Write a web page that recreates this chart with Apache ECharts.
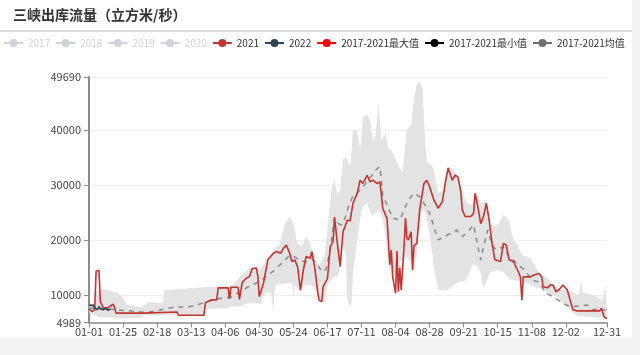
<!DOCTYPE html>
<html><head><meta charset="utf-8">
<script src="https://cdn.jsdelivr.net/npm/echarts@6/dist/echarts.min.js"></script>
<style>
html,body{margin:0;padding:0;background:#f3f3f3;width:640px;height:355px;overflow:hidden}
#c{width:632px;height:338px;background:#fff}
</style></head>
<body><div id="c"></div>
<script>
// ---- categories (leap-year day list, MM-DD) ----
const monthDays = [31,29,31,30,31,30,31,31,30,31,30,31];
const categories = [];
monthDays.forEach((n, m) => { for (let d = 1; d <= n; d++) categories.push(String(m+1).padStart(2,'0') + '-' + String(d).padStart(2,'0')); });
const labelStep = 24;

// ---- y axis range ----
const yMin = 4989;
const yMax = 49690;

// ---- hidden years (legend only) ----
const hiddenYears = ['2017','2018','2019','2020'];

// ---- 2021 [dayIndex, value] ----
const series2021 = [[0,7400],[2,7000],[4,7300],[5,14300],[7,14500],[8,8800],[10,7700],[13,7600],[15,8000],[17,8300],[18,7800],[19,6700],[38,6700],[39,6900],[62,6900],[63,6300],[81,6300],[82,8600],[86,9100],[90,9100],[91,11300],[98,11300],[99,9300],[100,11400],[105,11400],[106,9200],[107,9300],[108,12300],[111,13100],[113,13300],[115,14800],[118,14900],[119,13400],[120,9700],[121,9500],[123,12200],[126,16400],[130,17600],[132,17900],[135,17600],[137,18500],[139,19100],[141,17900],[143,16100],[145,16400],[147,15100],[149,10900],[151,14500],[153,17000],[156,16700],[157,17900],[159,15100],[161,10900],[162,9100],[164,8800],[165,11500],[168,13000],[170,18800],[172,19700],[173,24200],[175,19400],[177,15200],[179,21500],[182,23600],[184,23500],[186,26700],[189,28500],[191,30900],[193,30300],[196,31800],[198,30600],[200,30900],[203,30300],[205,30600],[207,25800],[210,23900],[212,15500],[213,18200],[214,13300],[216,10300],[217,18000],[218,10600],[219,15000],[220,10900],[222,18800],[223,24000],[224,20400],[225,20000],[227,21500],[228,14500],[229,19000],[231,19400],[233,25500],[236,30300],[238,30900],[240,29700],[243,27300],[246,25800],[249,27000],[251,30300],[253,33100],[256,30900],[258,31800],[260,31500],[262,28800],[263,25500],[265,24300],[269,24300],[271,24900],[272,28500],[274,26100],[276,23000],[278,24300],[280,26700],[282,23600],[284,19400],[286,16400],[290,16100],[292,19400],[294,19100],[296,16400],[299,16100],[302,14500],[304,13300],[305,9100],[306,13300],[309,13300],[311,13300],[313,13600],[317,13900],[319,13300],[320,11500],[323,11300],[325,11800],[327,11800],[329,10600],[331,10900],[334,11800],[337,10900],[339,9100],[341,7300],[344,7100],[360,7100],[361,7600],[363,6000],[365,5700]];

// ---- 2022 [dayIndex, value] ----
const series2022 = [[0,8100],[3,8150],[4,7700],[6,7300],[7,7900],[8,7500],[10,7300],[12,7600],[13,7200],[15,7400]];

// ---- 2017-2021 mean [dayIndex, value] ----
const seriesMean = [[0,7600],[14,7450],[20,7260],[30,7080],[40,6810],[50,7260],[60,7810],[70,7810],[78,8360],[85,8900],[94,9450],[100,9630],[106,10540],[112,11450],[118,12180],[124,13180],[130,14370],[136,15820],[141,17100],[145,16920],[149,16190],[153,16000],[157,16550],[161,15640],[164,14180],[167,14730],[170,18190],[173,24020],[176,22930],[178,22750],[181,24390],[183,26210],[186,28030],[189,28560],[193,29720],[197,30940],[202,32760],[205,33360],[207,28210],[210,26380],[214,24020],[219,23650],[222,25470],[225,27300],[229,28510],[233,27900],[236,26700],[240,24870],[243,22430],[246,20010],[250,20610],[254,21100],[259,21830],[263,20610],[268,21830],[271,22740],[274,18790],[276,16370],[278,18790],[281,21830],[284,19100],[287,18190],[292,18790],[296,16970],[299,16370],[304,15150],[307,14550],[312,12730],[317,12360],[322,10360],[327,9690],[334,8480],[339,7870],[346,7990],[351,8170],[355,7260],[360,7630],[365,7080]];

// ---- 2017-2021 band (min / max) ----
const bandIdx = [0,4,5,7,12,17,20,23,27,37,38,42,52,53,78,81,82,98,100,103,106,108,110,113,118,120,121,123,126,128,129,130,131,134,136,138,141,143,144,145,146,148,150,153,156,159,160,162,163,166,168,171,173,175,177,179,181,182,184,185,186,187,189,191,192,193,196,198,200,202,204,206,208,209,211,213,215,216,218,221,224,227,229,231,233,235,237,238,241,243,245,246,250,253,258,262,265,268,270,273,276,278,280,283,288,292,296,299,302,305,311,314,318,321,323,327,331,334,337,341,345,347,348,355,359,362,364,365];
const bandMin = [6800,6500,6200,6000,5900,5900,5800,5750,5750,5750,6300,6300,6300,6300,6300,6300,7500,7600,7900,7900,7900,8000,8300,8500,8600,8400,8300,10000,10400,10600,7000,7000,11500,12000,12000,12100,12200,12200,9500,12000,11500,10700,11500,11800,11800,11200,10800,8700,8600,8600,11800,13000,13300,13300,15000,19400,17000,9400,7900,8500,14000,16000,20000,23500,25470,26000,26700,25000,24500,25000,25470,24870,22400,20000,15500,14500,13300,13800,15800,16400,17000,15800,14550,17000,22400,25500,25000,24000,19400,15000,11200,11000,10800,11000,12000,12500,12500,14000,15500,15500,14000,11200,12500,14200,14500,14200,13000,12700,12600,12500,12000,11500,11200,10900,10400,10000,9500,8300,7800,6800,6100,6100,6100,6000,6000,6000,6000,6000];
const bandMax = [8000,8000,10500,10900,10900,10600,10400,9800,8200,7700,7700,8700,8500,10900,11300,11400,11500,11600,11700,12200,13200,13700,14200,14900,14600,14500,15000,15500,16700,17400,17800,18200,18400,19100,21000,22800,24200,23600,23300,22000,20000,19200,18900,20700,19200,17000,16000,15200,14900,17300,22200,29500,30900,28200,29100,34600,35100,34800,33500,36000,40200,40000,39800,36400,38500,42400,42800,41900,38200,39100,45200,38200,39000,39700,36600,36400,35300,34600,33500,32400,40000,41100,45500,48500,48800,47800,37300,34200,33800,32800,30000,28600,29100,33500,32400,30000,27300,26500,26400,28800,26700,26800,27300,22600,22700,24600,23600,20000,19100,17300,16700,15500,13600,13400,13100,11800,11300,11000,10900,10500,10000,12700,10400,10000,9450,9100,11800,12000];

const FONT = 'Noto Sans CJK SC, sans-serif';
const chart = echarts.init(document.getElementById('c'), null, {renderer: 'canvas'});

const lastIdx = categories.length - 1;
const labelShow = (i) => i === lastIdx || (i % labelStep === 0 && lastIdx - i >= labelStep);

const series = [];
hiddenYears.forEach(y => series.push({name: y, type: 'line', data: [], symbol: 'circle', showSymbol: false, itemStyle: {color: '#ccc'}}));
series.push({
  name: '2017-2021最小值', type: 'line', stack: 'band', symbol: 'circle', showSymbol: false, silent: true,
  data: bandIdx.map((x, i) => [x, bandMin[i]]),
  lineStyle: {opacity: 0}, itemStyle: {color: '#000'}
});
series.push({
  name: '2017-2021最大值', type: 'line', stack: 'band', symbol: 'circle', showSymbol: false, silent: true,
  data: bandIdx.map((x, i) => [x, bandMax[i] - bandMin[i]]),
  lineStyle: {opacity: 0}, itemStyle: {color: '#ff0000'},
  areaStyle: {color: '#e3e3e3', opacity: 1}
});
series.push({
  name: '2017-2021均值', type: 'line', symbol: 'circle', showSymbol: false,
  data: seriesMean, itemStyle: {color: '#6e6e6e'},
  lineStyle: {color: '#8a8a8a', width: 1.5, type: [5, 5]}
});
series.push({
  name: '2021', type: 'line', symbol: 'circle', showSymbol: false,
  data: series2021, itemStyle: {color: '#c23531'},
  lineStyle: {color: '#c23531', width: 1.6}
});
series.push({
  name: '2022', type: 'line', symbol: 'circle', showSymbol: false,
  data: series2022, itemStyle: {color: '#2f4554'},
  lineStyle: {color: '#2f4554', width: 1.6}
});

const legendSelected = {};
hiddenYears.forEach(y => legendSelected[y] = false);

chart.setOption({
  animation: false,
  textStyle: {fontFamily: FONT},
  title: {
    text: '三峡出库流量（立方米/秒）', left: 8, top: 3,
    textStyle: {fontSize: 14, fontWeight: 'bold', color: '#333', fontFamily: FONT}
  },
  graphic: [{type: 'line', shape: {x1: 0, y1: 31, x2: 632, y2: 31}, style: {stroke: '#dcdcdc', lineWidth: 2}}],
  legend: {
    left: 3, top: 33, width: 720, padding: [5, 0, 5, 0], itemWidth: 19, itemHeight: 10, itemGap: 5,
    textStyle: {fontSize: 10, color: '#333', fontFamily: FONT},
    selected: legendSelected,
    data: hiddenYears.map(y => ({name: y})).concat([
      {name: '2021'}, {name: '2022'},
      {name: '2017-2021最大值', lineStyle: {opacity: 1, color: '#ff0000', width: 2}},
      {name: '2017-2021最小值', lineStyle: {opacity: 1, color: '#000', width: 2}},
      {name: '2017-2021均值', lineStyle: {opacity: 1, color: '#6e6e6e', width: 2, type: 'solid'}}
    ])
  },
  grid: {left: 89, right: 25, top: 77, bottom: 15.5, containLabel: false},
  xAxis: {
    type: 'category', data: categories, boundaryGap: false,
    axisLine: {lineStyle: {color: '#8c8c8c', width: 1.5}},
    axisTick: {show: true, interval: labelShow, length: 5, lineStyle: {color: '#8c8c8c'}},
    axisLabel: {interval: labelShow, margin: 4, fontSize: 11, color: '#444', fontFamily: FONT, hideOverlap: false},
    splitLine: {show: false}
  },
  yAxis: {
    type: 'value', min: yMin, max: yMax,
    axisLine: {show: true, lineStyle: {color: '#8c8c8c', width: 2}},
    axisTick: {show: true, length: 5, lineStyle: {color: '#8c8c8c'}},
    axisLabel: {fontSize: 11, color: '#444', fontFamily: FONT, formatter: (v) => String(Math.round(v))},
    splitLine: {lineStyle: {color: '#eeeeee'}}
  },
  series: series
});
</script>
</body></html>
